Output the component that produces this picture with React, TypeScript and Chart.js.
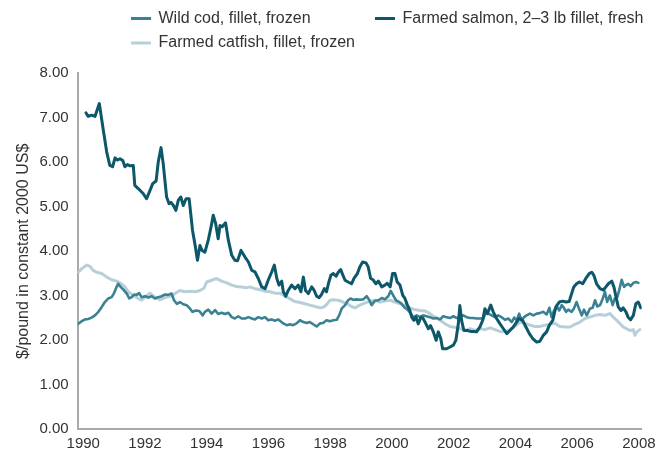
import React, { useEffect, useRef } from 'react';
import { Chart, registerables } from 'chart.js';

Chart.register(...registerables);

// ---------- data ----------
const seriesLabels = [
  'Wild cod, fillet, frozen',
  'Farmed salmon, 2–3 lb fillet, fresh',
  'Farmed catfish, fillet, frozen',
];
const yAxisTitle = '$/pound in constant 2000 US$';
const xTickYears = [1990, 1992, 1994, 1996, 1998, 2000, 2002, 2004, 2006, 2008];
const yTickValues = [0, 1, 2, 3, 4, 5, 6, 7, 8];

const codYears = [
  1989.84, 1989.95, 1990.06, 1990.16, 1990.27, 1990.38, 1990.49, 1990.60, 1990.70, 1990.81,
  1990.92, 1990.99, 1991.08, 1991.13, 1991.21, 1991.30, 1991.41, 1991.49, 1991.57, 1991.65,
  1991.73, 1991.81, 1991.89, 1992.00, 1992.11, 1992.22, 1992.32, 1992.43, 1992.54, 1992.65,
  1992.75, 1992.86, 1992.94, 1993.03, 1993.13, 1993.24, 1993.35, 1993.46, 1993.54, 1993.65,
  1993.76, 1993.87, 1993.94, 1994.05, 1994.16, 1994.27, 1994.37, 1994.48, 1994.59, 1994.70,
  1994.81, 1994.91, 1995.02, 1995.13, 1995.24, 1995.35, 1995.46, 1995.56, 1995.67, 1995.78,
  1995.89, 1995.99, 1996.10, 1996.21, 1996.32, 1996.48, 1996.59, 1996.70, 1996.80, 1996.91,
  1997.02, 1997.13, 1997.24, 1997.34, 1997.45, 1997.56, 1997.67, 1997.77, 1997.88, 1997.99,
  1998.10, 1998.21, 1998.29, 1998.37, 1998.48, 1998.58, 1998.66, 1998.75, 1998.86, 1998.96,
  1999.07, 1999.18, 1999.26, 1999.34, 1999.45, 1999.56, 1999.67, 1999.77, 1999.88, 1999.96,
  2000.04, 2000.13, 2000.24, 2000.31, 2000.42, 2000.53, 2000.61, 2000.69, 2000.80, 2000.91,
  2001.01, 2001.12, 2001.23, 2001.34, 2001.45, 2001.56, 2001.66, 2001.77, 2001.88, 2001.99,
  2002.10, 2002.20, 2002.31, 2002.42, 2002.53, 2002.63, 2002.74, 2002.85, 2002.96, 2003.05,
  2003.12, 2003.23, 2003.34, 2003.44, 2003.55, 2003.66, 2003.77, 2003.88, 2003.96, 2004.04,
  2004.12, 2004.20, 2004.28, 2004.36, 2004.47, 2004.58, 2004.69, 2004.79, 2004.90, 2005.01,
  2005.10, 2005.17, 2005.25, 2005.34, 2005.42, 2005.50, 2005.57, 2005.64, 2005.71, 2005.82,
  2005.89, 2005.98, 2006.07, 2006.15, 2006.22, 2006.31, 2006.41, 2006.50, 2006.58, 2006.65,
  2006.74, 2006.83, 2006.90, 2006.97, 2007.06, 2007.15, 2007.22, 2007.30, 2007.36, 2007.44,
  2007.52, 2007.58, 2007.65, 2007.73, 2007.82, 2007.90, 2007.98,
];
const codValues = [
  2.37, 2.43, 2.47, 2.48, 2.51, 2.56, 2.64, 2.75, 2.86, 2.94,
  2.97, 3.05, 3.20, 3.27, 3.20, 3.14, 3.05, 2.94, 2.97, 3.03,
  3.02, 3.06, 2.97, 2.99, 2.96, 2.99, 2.94, 2.97, 2.99, 3.03,
  3.02, 3.05, 2.90, 2.82, 2.86, 2.81, 2.79, 2.71, 2.64, 2.67,
  2.66, 2.56, 2.64, 2.69, 2.60, 2.68, 2.59, 2.62, 2.59, 2.62,
  2.52, 2.49, 2.54, 2.49, 2.49, 2.52, 2.49, 2.47, 2.52, 2.49,
  2.52, 2.45, 2.47, 2.44, 2.47, 2.38, 2.34, 2.36, 2.34, 2.38,
  2.45, 2.41, 2.39, 2.41, 2.36, 2.31, 2.38, 2.39, 2.45, 2.43,
  2.45, 2.46, 2.56, 2.71, 2.79, 2.90, 2.94, 2.91, 2.92, 2.91,
  2.92, 2.99, 2.91, 2.79, 2.89, 2.90, 2.95, 2.92, 2.99, 3.11,
  3.01, 2.90, 2.86, 2.82, 2.73, 2.67, 2.60, 2.52, 2.56, 2.52,
  2.56, 2.54, 2.52, 2.49, 2.50, 2.47, 2.54, 2.52, 2.50, 2.54,
  2.50, 2.54, 2.56, 2.52, 2.50, 2.50, 2.49, 2.49, 2.49, 2.64,
  2.60, 2.56, 2.52, 2.56, 2.52, 2.46, 2.49, 2.41, 2.51, 2.45,
  2.60, 2.45, 2.52, 2.56, 2.60, 2.56, 2.60, 2.61, 2.64, 2.58,
  2.73, 2.52, 2.67, 2.76, 2.67, 2.79, 2.73, 2.64, 2.69, 2.64,
  2.71, 2.86, 2.69, 2.56, 2.69, 2.56, 2.71, 2.73, 2.90, 2.76,
  2.79, 2.94, 3.09, 2.86, 3.01, 2.79, 2.94, 2.97, 3.12, 3.36,
  3.20, 3.24, 3.27, 3.22, 3.29, 3.31, 3.29,
];

const salmonYears = [
  1990.09, 1990.16, 1990.27, 1990.38, 1990.52, 1990.65, 1990.76, 1990.86, 1990.95, 1991.03,
  1991.10, 1991.19, 1991.28, 1991.35, 1991.43, 1991.51, 1991.62, 1991.67, 1991.78, 1991.94,
  1992.05, 1992.14, 1992.25, 1992.36, 1992.43, 1992.52, 1992.59, 1992.70, 1992.78, 1992.84,
  1992.92, 1993.00, 1993.08, 1993.16, 1993.24, 1993.33, 1993.43, 1993.54, 1993.62, 1993.70,
  1993.78, 1993.85, 1993.94, 1994.05, 1994.14, 1994.21, 1994.29, 1994.37, 1994.43, 1994.50,
  1994.61, 1994.70, 1994.81, 1994.91, 1995.00, 1995.11, 1995.24, 1995.35, 1995.46, 1995.56,
  1995.67, 1995.78, 1995.89, 1995.99, 1996.10, 1996.19, 1996.27, 1996.34, 1996.43, 1996.48,
  1996.56, 1996.64, 1996.75, 1996.86, 1996.96, 1997.05, 1997.13, 1997.20, 1997.29, 1997.40,
  1997.48, 1997.56, 1997.64, 1997.72, 1997.81, 1997.88, 1997.94, 1998.02, 1998.10, 1998.19,
  1998.26, 1998.34, 1998.40, 1998.48, 1998.58, 1998.69, 1998.77, 1998.88, 1998.96, 1999.05,
  1999.16, 1999.23, 1999.31, 1999.39, 1999.48, 1999.56, 1999.67, 1999.77, 1999.85, 1999.94,
  2000.02, 2000.10, 2000.17, 2000.26, 2000.35, 2000.42, 2000.50, 2000.58, 2000.64, 2000.71,
  2000.78, 2000.85, 2000.94, 2001.01, 2001.10, 2001.18, 2001.25, 2001.34, 2001.43, 2001.50,
  2001.58, 2001.64, 2001.77, 2001.88, 2001.99, 2002.07, 2002.15, 2002.20, 2002.26, 2002.33,
  2002.44, 2002.55, 2002.66, 2002.74, 2002.85, 2002.94, 2003.01, 2003.09, 2003.20, 2003.28,
  2003.39, 2003.50, 2003.61, 2003.72, 2003.82, 2003.93, 2004.04, 2004.12, 2004.23, 2004.34,
  2004.45, 2004.56, 2004.69, 2004.79, 2004.90, 2005.01, 2005.10, 2005.21, 2005.31, 2005.42,
  2005.53, 2005.64, 2005.74, 2005.82, 2005.89, 2005.98, 2006.07, 2006.18, 2006.28, 2006.39,
  2006.47, 2006.54, 2006.63, 2006.74, 2006.85, 2006.93, 2007.01, 2007.12, 2007.19, 2007.26,
  2007.33, 2007.42, 2007.49, 2007.58, 2007.65, 2007.73, 2007.82, 2007.90, 2007.98, 2008.06,
];
const salmonValues = [
  7.11, 7.03, 7.06, 7.03, 7.32, 6.72, 6.23, 5.93, 5.90, 6.10,
  6.05, 6.08, 6.04, 5.90, 5.95, 5.92, 5.93, 5.48, 5.41, 5.30,
  5.18, 5.33, 5.52, 5.58, 6.01, 6.33, 5.97, 5.22, 5.07, 5.10,
  5.03, 4.92, 5.15, 5.22, 5.03, 5.18, 5.18, 4.47, 4.15, 3.80,
  4.13, 4.02, 3.98, 4.25, 4.55, 4.81, 4.62, 4.28, 4.58, 4.55,
  4.64, 4.25, 3.91, 3.80, 3.79, 4.02, 3.87, 3.76, 3.57, 3.54,
  3.39, 3.20, 3.16, 3.35, 3.53, 3.69, 3.39, 3.24, 3.33, 3.09,
  2.99, 3.12, 3.24, 3.16, 3.24, 3.09, 3.42, 3.12, 3.05, 3.20,
  3.12, 2.99, 2.96, 3.03, 3.16, 3.09, 3.27, 3.46, 3.50, 3.44,
  3.53, 3.59, 3.48, 3.35, 3.31, 3.27, 3.39, 3.50, 3.65, 3.76,
  3.74, 3.65, 3.39, 3.36, 3.27, 3.33, 3.20, 3.24, 3.28, 3.20,
  3.50, 3.50, 3.31, 3.24, 3.01, 2.94, 2.79, 2.67, 2.52, 2.45,
  2.52, 2.37, 2.52, 2.49, 2.37, 2.26, 2.33, 2.19, 2.00, 2.19,
  2.04, 1.81, 1.81, 1.85, 1.89, 2.00, 2.37, 2.78, 2.43, 2.22,
  2.22, 2.20, 2.20, 2.19, 2.30, 2.45, 2.71, 2.60, 2.79, 2.64,
  2.49, 2.37, 2.26, 2.15, 2.22, 2.30, 2.41, 2.49, 2.45, 2.30,
  2.15, 2.04, 1.96, 1.98, 2.11, 2.19, 2.34, 2.45, 2.75, 2.86,
  2.88, 2.86, 2.87, 3.05, 3.20, 3.27, 3.31, 3.27, 3.39, 3.50,
  3.53, 3.46, 3.27, 3.16, 3.13, 3.20, 3.27, 3.33, 3.20, 2.97,
  2.75, 2.67, 2.73, 2.64, 2.52, 2.46, 2.56, 2.82, 2.86, 2.73,
];

const catfishYears = [
  1989.84, 1989.95, 1990.11, 1990.22, 1990.32, 1990.43, 1990.60, 1990.76, 1990.92, 1991.08,
  1991.24, 1991.35, 1991.46, 1991.62, 1991.78, 1991.89, 1992.00, 1992.16, 1992.32, 1992.48,
  1992.65, 1992.81, 1992.97, 1993.13, 1993.29, 1993.45, 1993.62, 1993.78, 1993.91, 1994.00,
  1994.16, 1994.32, 1994.48, 1994.65, 1994.81, 1994.97, 1995.13, 1995.29, 1995.40, 1995.56,
  1995.72, 1995.89, 1996.05, 1996.21, 1996.37, 1996.54, 1996.70, 1996.86, 1997.02, 1997.18,
  1997.34, 1997.51, 1997.67, 1997.77, 1997.88, 1997.99, 1998.10, 1998.26, 1998.42, 1998.58,
  1998.69, 1998.80, 1998.96, 1999.13, 1999.29, 1999.45, 1999.61, 1999.77, 1999.94, 2000.10,
  2000.26, 2000.42, 2000.58, 2000.74, 2000.91, 2001.07, 2001.23, 2001.39, 2001.56, 2001.72,
  2001.88, 2002.04, 2002.20, 2002.36, 2002.53, 2002.69, 2002.85, 2003.01, 2003.18, 2003.34,
  2003.50, 2003.66, 2003.82, 2003.98, 2004.15, 2004.31, 2004.47, 2004.63, 2004.79, 2004.96,
  2005.12, 2005.28, 2005.44, 2005.61, 2005.77, 2005.93, 2006.09, 2006.25, 2006.41, 2006.58,
  2006.74, 2006.90, 2007.06, 2007.17, 2007.28, 2007.39, 2007.49, 2007.60, 2007.71, 2007.82,
  2007.87, 2007.93, 2008.03,
];
const catfishValues = [
  3.53, 3.61, 3.69, 3.66, 3.57, 3.53, 3.50, 3.42, 3.36, 3.33,
  3.27, 3.20, 3.09, 3.01, 2.94, 2.90, 2.97, 3.06, 2.97, 2.91,
  2.96, 2.99, 3.05, 3.12, 3.09, 3.10, 3.09, 3.12, 3.17, 3.31,
  3.35, 3.39, 3.33, 3.29, 3.24, 3.21, 3.20, 3.18, 3.20, 3.16,
  3.14, 3.10, 3.09, 3.06, 3.06, 2.99, 2.93, 2.87, 2.85, 2.82,
  2.79, 2.76, 2.73, 2.74, 2.80, 2.90, 2.91, 2.90, 2.86, 2.81,
  2.76, 2.73, 2.79, 2.84, 2.88, 2.90, 2.86, 2.88, 2.90, 2.86,
  2.82, 2.79, 2.73, 2.69, 2.67, 2.66, 2.60, 2.52, 2.45, 2.37,
  2.31, 2.29, 2.27, 2.22, 2.26, 2.22, 2.26, 2.24, 2.28, 2.24,
  2.20, 2.19, 2.24, 2.31, 2.41, 2.38, 2.34, 2.31, 2.31, 2.34,
  2.36, 2.38, 2.31, 2.30, 2.30, 2.36, 2.41, 2.49, 2.52, 2.56,
  2.58, 2.56, 2.60, 2.52, 2.45, 2.37, 2.30, 2.26, 2.22, 2.24,
  2.11, 2.19, 2.24,
];

// ---------- styles ----------
const COD_COLOR = '#3a8292';
const SALMON_COLOR = '#0c5769';
const CATFISH_COLOR = '#b6cfd9';
const AXIS_COLOR = '#a9a9a9';
const TEXT_COLOR = '#333333';
const FONT_FAMILY = '"Liberation Sans", Arial, Helvetica, sans-serif';

const toPoints = (xs: number[], ys: number[]) => xs.map((x, i) => ({ x, y: ys[i] }));

// legend slots (grid layout: two columns, two rows)
const legendSlots = [
  { x: 131, y: 18.5 },
  { x: 375, y: 18.5 },
  { x: 131, y: 43 },
];

const gridLegend = {
  id: 'gridLegend',
  afterDraw(chart: any) {
    const ctx = chart.ctx as CanvasRenderingContext2D;
    ctx.save();
    ctx.font = `16px ${FONT_FAMILY}`;
    ctx.textBaseline = 'middle';
    ctx.textAlign = 'left';
    chart.data.datasets.forEach((ds: any, i: number) => {
      const slot = legendSlots[i];
      if (!slot) return;
      ctx.fillStyle = ds.borderColor;
      ctx.fillRect(slot.x, slot.y - 1.5, 20, 3);
      ctx.fillStyle = TEXT_COLOR;
      ctx.fillText(ds.label, slot.x + 27.5, slot.y);
    });
    ctx.restore();
  },
};

export default function App() {
  const canvasRef = useRef<HTMLCanvasElement | null>(null);

  useEffect(() => {
    if (!canvasRef.current) return;
    const chart = new Chart(canvasRef.current, {
      type: 'line',
      data: {
        datasets: [
          {
            label: seriesLabels[0],
            data: toPoints(codYears, codValues),
            borderColor: COD_COLOR,
            backgroundColor: COD_COLOR,
            borderWidth: 2.6,
            order: 1,
          },
          {
            label: seriesLabels[1],
            data: toPoints(salmonYears, salmonValues),
            borderColor: SALMON_COLOR,
            backgroundColor: SALMON_COLOR,
            borderWidth: 3,
            order: 0,
          },
          {
            label: seriesLabels[2],
            data: toPoints(catfishYears, catfishValues),
            borderColor: CATFISH_COLOR,
            backgroundColor: CATFISH_COLOR,
            borderWidth: 3,
            order: 2,
          },
        ],
      },
      options: {
        responsive: false,
        animation: false,
        events: [],
        elements: {
          point: { radius: 0 },
          line: { tension: 0, borderJoinStyle: 'round', borderCapStyle: 'round' },
        },
        layout: { padding: { left: 0, top: 73.3, right: 27.3, bottom: 0 } },
        plugins: {
          legend: { display: false },
          tooltip: { enabled: false },
        },
        scales: {
          x: {
            type: 'linear',
            min: 1989.82,
            max: 2008.09,
            grid: { display: false, drawTicks: false },
            border: { display: true, color: AXIS_COLOR, width: 2 },
            ticks: {
              color: TEXT_COLOR,
              font: { family: FONT_FAMILY, size: 15 },
              padding: 6,
              maxRotation: 0,
              autoSkip: false,
              callback: (v: any) => String(v),
            },
            afterBuildTicks: (scale: any) => {
              scale.ticks = xTickYears.map((value) => ({ value }));
            },
            afterFit: (scale: any) => {
              scale.height = 24.7;
            },
          },
          y: {
            type: 'linear',
            min: 0,
            max: 8,
            grid: { display: false, drawTicks: false },
            border: { display: true, color: AXIS_COLOR, width: 2 },
            ticks: {
              color: TEXT_COLOR,
              font: { family: FONT_FAMILY, size: 15 },
              padding: 9,
              callback: (v: any) => Number(v).toFixed(2),
            },
            afterBuildTicks: (scale: any) => {
              scale.ticks = yTickValues.map((value) => ({ value }));
            },
            title: {
              display: true,
              text: yAxisTitle,
              color: TEXT_COLOR,
              font: { family: FONT_FAMILY, size: 16 },
              padding: { top: 14, bottom: 0 },
            },
            afterFit: (scale: any) => {
              scale.width = 77.7;
            },
          },
        },
      },
      plugins: [gridLegend],
    } as any);
    return () => chart.destroy();
  }, []);

  return (
    <canvas
      ref={canvasRef}
      width={669}
      height={454}
      style={{ position: 'fixed', left: 0, top: 0, display: 'block' }}
    />
  );
}
